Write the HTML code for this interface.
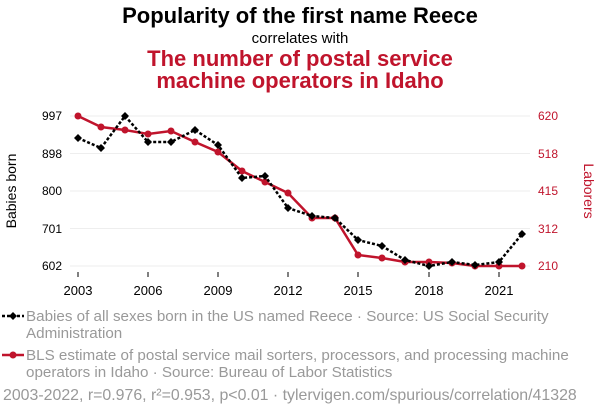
<!DOCTYPE html>
<html><head><meta charset="utf-8"><style>
body{margin:0;background:#fff;width:600px;height:414px;overflow:hidden;font-family:"Liberation Sans",sans-serif}
</style></head><body>
<svg width="600" height="414" xmlns="http://www.w3.org/2000/svg" font-family="Liberation Sans, sans-serif">
<text x="300" y="23" text-anchor="middle" font-size="22" font-weight="bold" fill="#000">Popularity of the first name Reece</text>
<text x="300" y="43" text-anchor="middle" font-size="15" fill="#000">correlates with</text>
<text x="300" y="66" text-anchor="middle" font-size="22" font-weight="bold" fill="#c0142c">The number of postal service</text>
<text x="300" y="88" text-anchor="middle" font-size="22" font-weight="bold" fill="#c0142c">machine operators in Idaho</text>
<g stroke="#eee" stroke-width="1">
<line x1="70" x2="530" y1="116" y2="116"/><line x1="70" x2="530" y1="153.5" y2="153.5"/><line x1="70" x2="530" y1="191" y2="191"/><line x1="70" x2="530" y1="228.5" y2="228.5"/><line x1="70" x2="530" y1="266" y2="266"/>
</g>
<g font-size="12" fill="#000" text-anchor="end">
<text x="62" y="120">997</text><text x="62" y="158">898</text><text x="62" y="195">800</text><text x="62" y="233">701</text><text x="62" y="270">602</text>
</g>
<g font-size="12" fill="#c0142c" text-anchor="start">
<text x="538" y="120">620</text><text x="538" y="158">518</text><text x="538" y="195">415</text><text x="538" y="233">312</text><text x="538" y="270">210</text>
</g>
<text transform="translate(16,191) rotate(-90)" text-anchor="middle" font-size="14" fill="#000">Babies born</text>
<text transform="translate(584,191) rotate(90)" text-anchor="middle" font-size="14" fill="#c0142c">Laborers</text>
<g font-size="13" fill="#000" text-anchor="middle">
<text x="78" y="295">2003</text><text x="148" y="295">2006</text><text x="218" y="295">2009</text><text x="288" y="295">2012</text><text x="358" y="295">2015</text><text x="429" y="295">2018</text><text x="499" y="295">2021</text>
</g>
<g stroke="#000"><line x1="78" x2="78" y1="272" y2="277"/><line x1="148" x2="148" y1="272" y2="277"/><line x1="218" x2="218" y1="272" y2="277"/><line x1="288" x2="288" y1="272" y2="277"/><line x1="358" x2="358" y1="272" y2="277"/><line x1="429" x2="429" y1="272" y2="277"/><line x1="499" x2="499" y1="272" y2="277"/></g>
<polyline fill="none" stroke="#c0142c" stroke-width="2.5" points="78,116 101,127 125,130 148,134 171,131 195,142 218,152 242,171 265,182 288,193 312,218 335,218 358,255 382,258 405,262 429,262 452,263 475,266 499,266 522,266"/>
<g fill="#c0142c">
<circle cx="78" cy="116" r="3.5"/><circle cx="101" cy="127" r="3.5"/><circle cx="125" cy="130" r="3.5"/><circle cx="148" cy="134" r="3.5"/><circle cx="171" cy="131" r="3.5"/><circle cx="195" cy="142" r="3.5"/><circle cx="218" cy="152" r="3.5"/><circle cx="242" cy="171" r="3.5"/><circle cx="265" cy="182" r="3.5"/><circle cx="288" cy="193" r="3.5"/><circle cx="312" cy="218" r="3.5"/><circle cx="335" cy="218" r="3.5"/><circle cx="358" cy="255" r="3.5"/><circle cx="382" cy="258" r="3.5"/><circle cx="405" cy="262" r="3.5"/><circle cx="429" cy="262" r="3.5"/><circle cx="452" cy="263" r="3.5"/><circle cx="475" cy="266" r="3.5"/><circle cx="499" cy="266" r="3.5"/><circle cx="522" cy="266" r="3.5"/>
</g>
<polyline fill="none" stroke="#000" stroke-width="2.5" stroke-dasharray="3,2" points="78,138 101,148 125,116 148,142 171,142 195,130 218,145 242,178 265,176 288,208 312,216 335,218 358,240 382,246 405,260 429,266 452,262 475,265 499,262 522,234"/>
<g fill="#000">
<path d="M78,134l4,4l-4,4l-4,-4z"/><path d="M101,144l4,4l-4,4l-4,-4z"/><path d="M125,112l4,4l-4,4l-4,-4z"/><path d="M148,138l4,4l-4,4l-4,-4z"/><path d="M171,138l4,4l-4,4l-4,-4z"/><path d="M195,126l4,4l-4,4l-4,-4z"/><path d="M218,141l4,4l-4,4l-4,-4z"/><path d="M242,174l4,4l-4,4l-4,-4z"/><path d="M265,172l4,4l-4,4l-4,-4z"/><path d="M288,204l4,4l-4,4l-4,-4z"/><path d="M312,212l4,4l-4,4l-4,-4z"/><path d="M335,214l4,4l-4,4l-4,-4z"/><path d="M358,236l4,4l-4,4l-4,-4z"/><path d="M382,242l4,4l-4,4l-4,-4z"/><path d="M405,256l4,4l-4,4l-4,-4z"/><path d="M429,262l4,4l-4,4l-4,-4z"/><path d="M452,258l4,4l-4,4l-4,-4z"/><path d="M475,261l4,4l-4,4l-4,-4z"/><path d="M499,258l4,4l-4,4l-4,-4z"/><path d="M522,230l4,4l-4,4l-4,-4z"/>
</g>
<line x1="2" x2="24" y1="316" y2="316" stroke="#000" stroke-width="2.5" stroke-dasharray="3,2"/>
<path d="M13,312l4,4l-4,4l-4,-4z" fill="#000"/>
<line x1="2" x2="24" y1="355" y2="355" stroke="#c0142c" stroke-width="2.5"/>
<circle cx="13" cy="355" r="3.5" fill="#c0142c"/>
<g font-size="15.2" fill="#999">
<text x="26" y="321">Babies of all sexes born in the US named Reece · Source: US Social Security</text>
<text x="26" y="338">Administration</text>
<text x="26" y="360">BLS estimate of postal service mail sorters, processors, and processing machine</text>
<text x="26" y="377">operators in Idaho · Source: Bureau of Labor Statistics</text>
</g>
<text x="3" y="400" font-size="15.9" fill="#999">2003-2022, r=0.976, r²=0.953, p&lt;0.01 · tylervigen.com/spurious/correlation/41328</text>
</svg>
</body></html>
